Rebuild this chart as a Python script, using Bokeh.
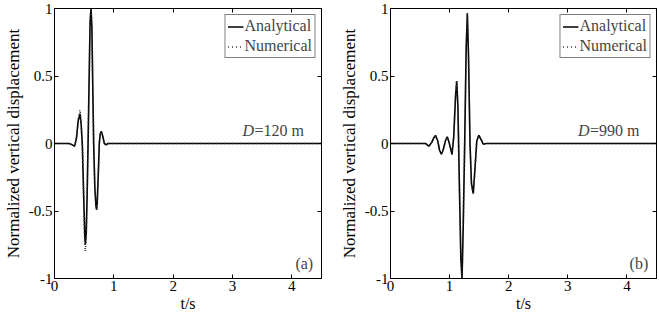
from bokeh.plotting import figure
from bokeh.layouts import row
from bokeh.models import (FixedTicker, LinearAxis, Range1d, Label, Legend, LegendItem,
                          CustomJSTickFormatter)
from bokeh.embed import file_html
from bokeh.resources import INLINE

# ---- data ----
t_a = [0.0, 0.24, 0.30, 0.34, 0.37, 0.40, 0.43, 0.45, 0.47, 0.49,
       0.51, 0.52, 0.535, 0.55, 0.565, 0.58, 0.60, 0.615, 0.63, 0.645,
       0.66, 0.68, 0.70, 0.71, 0.72, 0.74, 0.755, 0.77, 0.79, 0.81,
       0.84, 0.87, 0.90, 0.95, 4.5]
ana_a = [0, 0, -0.01, -0.02, 0.04, 0.17, 0.22, 0.14, -0.02, -0.36,
         -0.68, -0.75, -0.66, -0.38, -0.02, 0.38, 0.90, 1.0, 0.86, 0.42,
         0.0, -0.33, -0.47, -0.49, -0.44, -0.20, 0.0, 0.07, 0.09, 0.06,
         0.0, -0.01, 0.0, 0.0, 0.0]
num_a = [0, 0, -0.01, -0.02, 0.04, 0.18, 0.25, 0.14, -0.02, -0.38,
         -0.72, -0.80, -0.68, -0.38, -0.02, 0.38, 0.90, 1.0, 0.86, 0.42,
         0.0, -0.33, -0.47, -0.49, -0.44, -0.20, 0.0, 0.07, 0.09, 0.06,
         0.0, -0.01, 0.0, 0.0, 0.0]

t_b = [0.0, 0.59, 0.65, 0.70, 0.73, 0.76, 0.80, 0.83, 0.86, 0.89,
       0.93, 0.96, 0.99, 1.04, 1.07, 1.10, 1.12, 1.14, 1.165, 1.19,
       1.21, 1.23, 1.255, 1.28, 1.30, 1.32, 1.345, 1.37, 1.40, 1.43,
       1.46, 1.495, 1.53, 1.57, 1.62, 4.5]
ana_b = [0, 0, -0.02, 0.01, 0.04, 0.06, 0.02, -0.05, -0.08, -0.05,
         0.02, 0.05, 0.01, -0.08, 0.05, 0.35, 0.46, 0.28, -0.30, -0.85,
         -1.0, -0.62, 0.0, 0.70, 0.96, 0.65, 0.0, -0.30, -0.37, -0.18,
         0.02, 0.06, 0.03, -0.005, 0.0, 0.0]
num_b = [0, 0, -0.02, 0.01, 0.04, 0.06, 0.02, -0.05, -0.08, -0.05,
         0.02, 0.05, 0.01, -0.08, 0.05, 0.35, 0.47, 0.28, -0.30, -0.85,
         -1.0, -0.62, 0.0, 0.70, 0.97, 0.65, 0.0, -0.30, -0.38, -0.18,
         0.02, 0.06, 0.03, -0.005, 0.0, 0.0]

x_ticks = [0, 1, 2, 3, 4]
y_ticks = [-1, -0.5, 0, 0.5, 1]
y_tick_labels = {-1: "-1", -0.5: "-0.5", 0: "0", 0.5: "0.5", 1: "1"}
series_names = ["Analytical", "Numerical"]
panel_tags = ["(a)", "(b)"]
depth_labels = ["120", "990"]
x_title = "t/s"
y_title = "Normalized vertical displacement"

FONT = "Liberation Serif"


def make_panel(t, ana, num, tag, depth, width, left_border, right_border):
    p = figure(width=width, height=317, output_backend="svg", toolbar_location=None,
               x_range=Range1d(0, 4.5), y_range=Range1d(-1, 1),
               min_border_left=left_border, min_border_right=right_border,
               min_border_top=8, min_border_bottom=39)
    p.background_fill_color = "white"
    p.border_fill_color = "white"
    p.outline_line_color = "black"
    p.outline_line_width = 1
    p.grid.visible = False

    r1 = p.line(t, ana, line_color="black", line_width=1.6)
    r2 = p.line(t, num, line_color="#333333", line_width=1.6, line_dash="1 3")

    for ax, ticks in ((p.xaxis[0], x_ticks), (p.yaxis[0], y_ticks)):
        ax.ticker = FixedTicker(ticks=ticks)
        ax.major_tick_in = 4
        ax.major_tick_out = 0
        ax.minor_tick_line_color = None
        ax.axis_line_color = "black"
        ax.major_tick_line_color = "black"
        ax.major_label_text_font = FONT
        ax.major_label_text_font_size = "15px"
        ax.major_label_text_color = "black"
        ax.major_label_standoff = 2
        ax.axis_label_text_font = FONT
        ax.axis_label_text_font_style = "normal"
        ax.axis_label_text_color = "black"
    p.yaxis[0].major_label_overrides = y_tick_labels
    p.yaxis[0].axis_label = y_title
    p.yaxis[0].axis_label_text_font_size = "17px"
    p.yaxis[0].axis_label_standoff = 3
    p.xaxis[0].axis_label = x_title
    p.xaxis[0].axis_label_text_font_size = "16px"
    p.xaxis[0].axis_label_standoff = 1

    # mirrored ticks on top and right
    for loc, ticks in (("above", x_ticks), ("right", y_ticks)):
        ax = LinearAxis(ticker=FixedTicker(ticks=ticks),
                        formatter=CustomJSTickFormatter(code="return ''"))
        ax.major_tick_in = 4
        ax.major_tick_out = 0
        ax.minor_tick_line_color = None
        ax.axis_line_color = "black"
        ax.major_label_text_font_size = "1px"
        ax.major_label_standoff = 0
        p.add_layout(ax, loc)

    # D = ... m annotation
    p.add_layout(Label(x=3.17, y=0.10, text="D", text_font=FONT, text_font_style="italic",
                       text_font_size="16px", text_align="left", text_baseline="alphabetic"))
    p.add_layout(Label(x=3.17, y=0.10, x_offset=12, text="=" + depth + " m", text_font=FONT,
                       text_font_size="16px", text_align="left", text_baseline="alphabetic"))

    # panel tag
    p.add_layout(Label(x=4.36, y=-0.89, text=tag, text_font=FONT, text_font_size="16px",
                       text_align="right", text_baseline="middle"))

    legend = Legend(items=[LegendItem(label=series_names[0], renderers=[r1]),
                           LegendItem(label=series_names[1], renderers=[r2])],
                    location="top_right")
    legend.label_text_font = FONT
    legend.label_text_font_size = "16px"
    legend.label_height = 17
    legend.glyph_height = 17
    legend.glyph_width = 16
    legend.label_standoff = 1
    legend.spacing = 2
    legend.padding = 2
    legend.margin = 6
    legend.border_line_color = "black"
    legend.border_line_width = 1
    legend.background_fill_alpha = 1
    p.add_layout(legend)
    return p


pa = make_panel(t_a, ana_a, num_a, panel_tags[0], depth_labels[0], 325, 54, 4)
pb = make_panel(t_b, ana_b, num_b, panel_tags[1], depth_labels[1], 334, 65, 3)

layout = row(pa, pb, spacing=0)
open("out.html", "w").write(file_html(layout, INLINE))
